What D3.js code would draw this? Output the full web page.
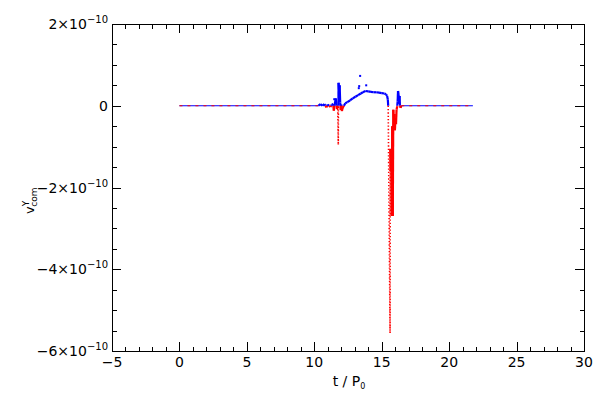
<!DOCTYPE html>
<html><head><meta charset="utf-8">
<script src="https://cdn.jsdelivr.net/npm/d3@7"></script>
<style>body{margin:0;background:#fff}svg{display:block}text{font-family:"DejaVu Sans",sans-serif;fill:#000}</style>
</head><body><svg id="c" width="600" height="400"></svg>
<script>
// time in units of P0, velocity in units of 1e-10
const tVals=[0,10.3,10.45,10.6,10.75,10.9,11.0,11.1,11.2,11.3,11.4,11.45,11.5,11.6,11.68,11.74,11.78,11.79,11.8,11.84,11.88,11.92,11.96,12.0,12.05,12.1,12.2,12.3,12.45,12.65,12.85,13.05,13.25,13.45,13.6,13.8,14.0,14.2,14.4,14.6,14.8,15.0,15.2,15.32,15.4,15.45,15.48,15.62,15.63,15.67,15.7,15.74,15.78,15.82,15.86,15.9,15.94,15.98,16.02,16.06,16.1,16.15,16.18,16.21,16.25,16.28,16.32,16.35,16.4,16.45,21.76];
const vVals=[0,0,0.04,0,0.04,-0.04,0.03,0,-0.03,0.03,0.04,-0.12,0.02,0.17,-0.08,0,-0.95,0,0.56,0.38,0.5,0.08,-0.1,0.03,-0.13,-0.05,0,0.06,0.09,0.13,0.18,0.22,0.26,0.3,0.33,0.36,0.35,0.34,0.33,0.33,0.32,0.31,0.3,0.28,0.24,0.16,0,-5.56,-1.05,-1.6,-1.1,-2.7,-0.5,-2.7,-0.1,-0.5,-0.2,-0.6,-0.3,-0.45,-0.1,-0.02,0.1,0.36,0.28,0.05,0.24,0.02,-0.05,0,0];
const dottedFrom=[11.74,11.78,15.48,15.62];
const outT=[13.4,13.33,13.85,13.3,11.48,11.6];
const outV=[0.73,0.48,0.5,0.43,0.16,0.16];
const xTicks=[-5,0,5,10,15,20,25,30];
const xTickLabels=["−5","0","5","10","15","20","25","30"];
const yTicks=[2,0,-2,-4,-6];
const yTickMant=["2×10","0","−2×10","−4×10","−6×10"];
const yTickExp=["−10","","−10","−10","−10"];

const svg=d3.select("#c");
const L=112,R=584,T=24,B=351;
const x=d3.scaleLinear().domain([-5,30]).range([L,R]);
const y=d3.scaleLinear().domain([-6,2]).range([B,T]);
const BLUE="#0000ff",RED="#ff0000";

// data
const g=svg.append("g");
function seg(t0,v0,t1,v1,col,w,dash){
  const l=g.append("line").attr("x1",x(t0)).attr("y1",y(v0)).attr("x2",x(t1)).attr("y2",y(v1))
    .attr("stroke",col).attr("stroke-width",w);
  if(dash) l.attr("stroke-dasharray",dash);
}
for(let i=0;i<tVals.length-1;i++){
  const t0=tVals[i],v0=vVals[i],t1=tVals[i+1],v1=vVals[i+1];
  const dotted=dottedFrom.includes(t0);
  if(v0===0&&v1===0){
    seg(t0,0,t1,0,BLUE,1.2);
    seg(t0,0,t1,0,RED,1.2,"3,5");
    continue;
  }
  const w=dotted?1.6:2.2, dash=dotted?"1.3,2":null;
  if(v0>=0&&v1>=0) seg(t0,v0,t1,v1,BLUE,w,dash);
  else if(v0<=0&&v1<=0) seg(t0,v0,t1,v1,RED,w,dash);
  else{
    const tz=t0+(0-v0)*(t1-t0)/(v1-v0);
    seg(t0,v0,tz,0,v0>0?BLUE:RED,w,dash);
    seg(tz,0,t1,v1,v1>0?BLUE:RED,w,dash);
  }
}
g.selectAll("rect.o").data(outT).enter().append("rect")
  .attr("x",(d)=>x(d)-1).attr("y",(d,i)=>y(outV[i])-1).attr("width",2).attr("height",2).attr("fill",BLUE);

// axes ticks (inward, on all sides)
const xMinor=d3.range(-5,30.001,1), yMinor=d3.range(-6,2.001,0.5);
function addAxis(axis,tr){ const a=svg.append("g").attr("transform",tr).call(axis); a.select(".domain").remove(); a.selectAll("text").remove(); a.selectAll("line").attr("shape-rendering","crispEdges"); }
addAxis(d3.axisBottom(x).tickValues(xMinor).tickSize(-4.5),`translate(0,${B})`);
addAxis(d3.axisBottom(x).tickValues(xTicks).tickSize(-9),`translate(0,${B})`);
addAxis(d3.axisTop(x).tickValues(xMinor).tickSize(-4.5),`translate(0,${T})`);
addAxis(d3.axisTop(x).tickValues(xTicks).tickSize(-9),`translate(0,${T})`);
addAxis(d3.axisLeft(y).tickValues(yMinor).tickSize(-4.5),`translate(${L},0)`);
addAxis(d3.axisLeft(y).tickValues(yTicks).tickSize(-9),`translate(${L},0)`);
addAxis(d3.axisRight(y).tickValues(yMinor).tickSize(-4.5),`translate(${R},0)`);
addAxis(d3.axisRight(y).tickValues(yTicks).tickSize(-9),`translate(${R},0)`);
svg.append("rect").attr("x",L+0.5).attr("y",T+0.5).attr("width",R-L).attr("height",B-T)
  .attr("fill","none").attr("stroke","#000").attr("stroke-width",1);

// tick labels
svg.selectAll("text.xl").data(xTicks).enter().append("text")
  .attr("x",d=>x(d)).attr("y",B+16).attr("text-anchor","middle").attr("font-size",14).text((d,i)=>xTickLabels[i]);
yTicks.forEach((d,i)=>{
  const t=svg.append("text").attr("x",L-4).attr("y",y(d)+5).attr("text-anchor","end").attr("font-size",14);
  t.append("tspan").text(yTickMant[i]);
  if(yTickExp[i]) t.append("tspan").attr("dy",-6).attr("font-size",10).text(yTickExp[i]);
});
// axis titles
const xt=svg.append("text").attr("x",349).attr("y",386).attr("text-anchor","middle").attr("font-size",14);
xt.append("tspan").text("t / P");
xt.append("tspan").attr("dy",3).attr("font-size",8).text("0");
const yt=svg.append("text").attr("transform","translate(34,214) rotate(-90)").attr("font-size",13);
yt.append("tspan").text("v");
yt.append("tspan").attr("dy",-5).attr("font-size",9).text("Y");
yt.append("tspan").attr("dx",-6).attr("dy",8).attr("font-size",9).text("com");
</script></body></html>
